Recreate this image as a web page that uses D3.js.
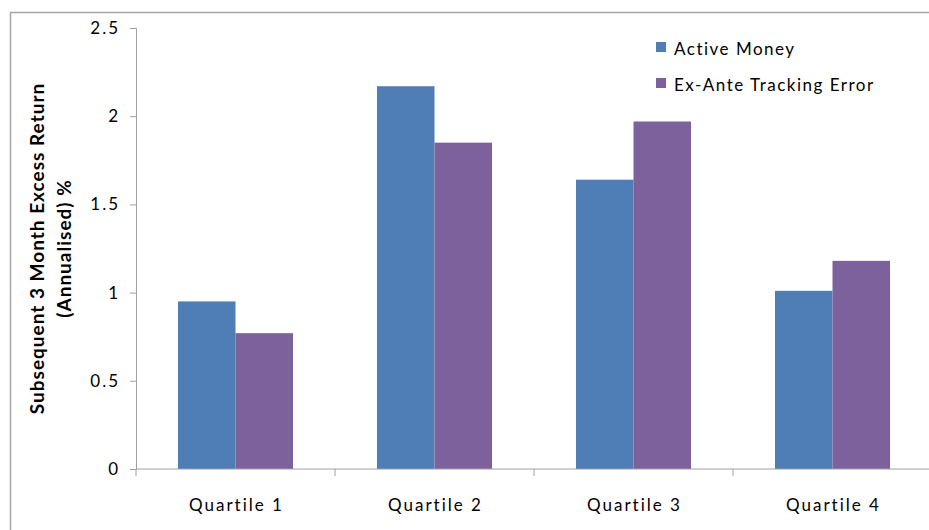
<!DOCTYPE html>
<html>
<head>
<meta charset="utf-8">
<script src="https://cdn.jsdelivr.net/npm/d3@7"></script>
<style>
  html, body { margin: 0; padding: 0; background: #fff; }
  svg { display: block; }
  text { font-family: Lato, "Open Sans", sans-serif; fill: #000; }
</style>
</head>
<body>
<svg id="chart" width="929" height="530"></svg>
<script>
// Quartile groups along the x axis
const categories = ["Quartile 1", "Quartile 2", "Quartile 3", "Quartile 4"];
// Series names (legend order)
const seriesNames = ["Active Money", "Ex-Ante Tracking Error"];
// Subsequent 3-month excess return (annualised, %) per quartile
const activeMoney = [0.95, 2.17, 1.64, 1.01];
const exAnteTE = [0.77, 1.85, 1.97, 1.18];
// Value axis ticks
const yTicks = [0, 0.5, 1, 1.5, 2, 2.5];
const yTickLabels = ["0", "0.5", "1", "1.5", "2", "2.5"];
const colors = ["#4F7EB7", "#7C619C"];

const svg = d3.select("#chart");
const margin = { left: 136, right: -3, top: 28, bottom: 61 };
const W = 929, H = 530;

// Outer chart frame
svg.append("rect")
  .attr("x", 10.5).attr("y", 12.5)
  .attr("width", 940).attr("height", 540)
  .attr("fill", "none").attr("stroke", "#a6a6a6").attr("stroke-width", 1.5);

const x0 = d3.scaleBand().domain(categories)
  .range([margin.left, W - margin.right]).paddingInner(0).paddingOuter(0);
const x1 = d3.scaleBand().domain(seriesNames)
  .range([0, x0.bandwidth()]).paddingInner(0).paddingOuter(0.73);
const y = d3.scaleLinear().domain([0, 2.5]).range([H - margin.bottom, margin.top]);

const rows = categories.map((c, i) => ({ cat: c, vals: [activeMoney[i], exAnteTE[i]] }));

// Bars
const g = svg.append("g");
g.selectAll("g.grp").data(rows).join("g")
  .attr("class", "grp")
  .attr("transform", d => `translate(${x0(d.cat)},0)`)
  .selectAll("rect").data(d => d.vals.map((v, k) => ({ k, v })))
  .join("rect")
  .attr("x", d => x1(seriesNames[d.k]))
  .attr("width", x1.bandwidth())
  .attr("y", d => y(d.v))
  .attr("height", d => y(0) - y(d.v))
  .attr("fill", d => colors[d.k]);

// Value axis
const yAxis = svg.append("g")
  .attr("transform", `translate(${margin.left},0)`)
  .call(d3.axisLeft(y).tickValues(yTicks).tickFormat((d, i) => yTickLabels[i])
    .tickSize(6).tickPadding(10));
yAxis.select(".domain").attr("stroke", "#a0a0a0");
yAxis.selectAll(".tick line").attr("stroke", "#a0a0a0");
yAxis.selectAll(".tick text").attr("font-size", 17)
  .attr("font-family", "Lato, sans-serif").attr("letter-spacing", 2).attr("fill", "#000");

// Category axis: line plus boundary ticks between groups
const xg = svg.append("g");
xg.append("line")
  .attr("x1", margin.left).attr("x2", W - margin.right)
  .attr("y1", y(0)).attr("y2", y(0))
  .attr("stroke", "#a0a0a0");
const bounds = categories.map(c => x0(c)).concat([x0(categories[3]) + x0.bandwidth()]);
xg.selectAll("line.b").data(bounds).join("line")
  .attr("class", "b")
  .attr("x1", d => d).attr("x2", d => d)
  .attr("y1", y(0)).attr("y2", y(0) + 7)
  .attr("stroke", "#a0a0a0");
xg.selectAll("text").data(categories).join("text")
  .attr("x", d => x0(d) + x0.bandwidth() / 2 + 1)
  .attr("y", y(0) + 42)
  .attr("text-anchor", "middle")
  .attr("font-size", 17)
  .attr("letter-spacing", 2)
  .text(d => d);

// Axis title
const cy = (y(0) + y(2.5)) / 2;
const title = svg.append("text")
  .attr("transform", `translate(44,${cy}) rotate(-90)`)
  .attr("text-anchor", "middle")
  .attr("font-size", 19)
  .attr("letter-spacing", 1)
  .attr("font-weight", "bold");
title.append("tspan").attr("x", 0).attr("dy", 0).text("Subsequent 3 Month Excess Return");
title.append("tspan").attr("x", 0).attr("dy", 27).text("(Annualised) %");

// Legend
const lg = svg.append("g").attr("transform", "translate(656,42)");
const items = lg.selectAll("g").data(seriesNames).join("g")
  .attr("transform", (d, i) => `translate(0,${i * 36})`);
items.append("rect").attr("width", 10).attr("height", 10)
  .attr("fill", (d, i) => colors[i]);
items.append("text").attr("x", 18).attr("y", 13)
  .attr("font-size", 17).attr("letter-spacing", 1.5)
  .text(d => d);
</script>
</body>
</html>
